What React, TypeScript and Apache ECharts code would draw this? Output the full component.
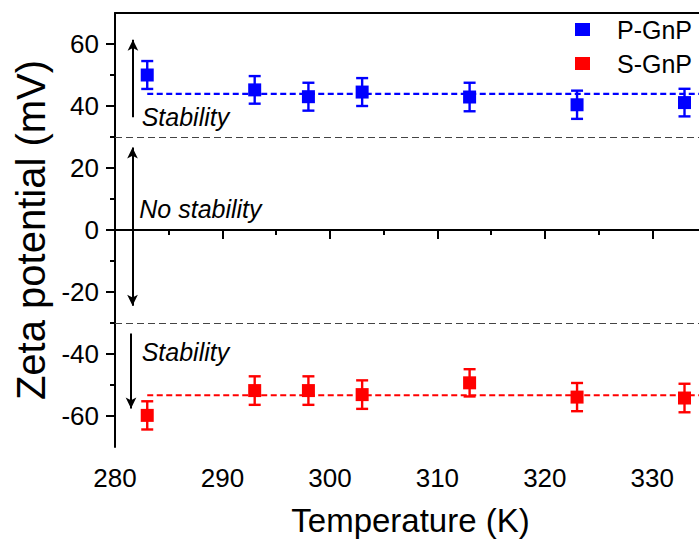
import React, { useEffect, useRef } from "react";
import * as echarts from "echarts";

// ---- data ----
const temperatures = [283, 293, 298, 303, 313, 323, 333];
const pGnP = [50.0, 45.2, 43.0, 44.5, 42.9, 40.4, 41.1];
const pGnPErr = [4.5, 4.45, 4.5, 4.5, 4.6, 4.55, 4.45];
const sGnP = [-59.8, -51.8, -51.8, -53.1, -49.3, -53.9, -54.2];
const sGnPErr = [4.55, 4.6, 4.6, 4.6, 4.4, 4.55, 4.6];
const fitP = 43.9;
const fitS = -53.3;
const fitRange = [283, 335];

const xMajorTicks = [280, 290, 300, 310, 320, 330];
const xMinorTicks = [285, 295, 305, 315, 325, 335];
const yMajorTicks = [-60, -40, -20, 0, 20, 40, 60];
const yMinorTicks = [-50, -30, -10, 10, 30, 50];

const stabilityLimits = [30, -30];
// annotation arrows: [x, from, to]
const arrowUp = [281.67, 36.4, 61.4];
const arrowBoth = [281.63, 26.6, -24.4];
const arrowDown = [281.49, -33.4, -57.6];
const annotations = [
  { text: "Stability", x: 282.48, y: 36.5 },
  { text: "No stability", x: 282.26, y: 6.9 },
  { text: "Stability", x: 282.48, y: -39.5 },
];

const FONT = "Liberation Sans, Arial, sans-serif";
const BLUE = "#0000FF";
const RED = "#FF0000";

function errorBarSeries(name: string, vals: number[], errs: number[], color: string) {
  return {
    type: "custom",
    name: name + "-err",
    xAxisIndex: 0,
    yAxisIndex: 0,
    z: 3,
    silent: true,
    encode: { x: 0, y: [1, 2] },
    data: temperatures.map((t, i) => [t, vals[i] - errs[i], vals[i] + errs[i]]),
    renderItem: (params: any, api: any) => {
      const x = api.value(0);
      const p1 = api.coord([x, api.value(1)]);
      const p2 = api.coord([x, api.value(2)]);
      const hw = 6;
      const style = { stroke: color, lineWidth: 2.4 };
      return {
        type: "group",
        children: [
          { type: "line", shape: { x1: p1[0], y1: p1[1], x2: p2[0], y2: p2[1] }, style },
          { type: "line", shape: { x1: p1[0] - hw, y1: p1[1], x2: p1[0] + hw, y2: p1[1] }, style },
          { type: "line", shape: { x1: p2[0] - hw, y1: p2[1], x2: p2[0] + hw, y2: p2[1] }, style },
        ],
      };
    },
  };
}

export default function App() {
  const ref = useRef<HTMLDivElement>(null);
  useEffect(() => {
    if (!ref.current) return;
    const chart = echarts.init(ref.current, undefined, { renderer: "svg" });
    const axisLineStyle = { color: "#000", width: 2 };
    const option: any = {
      animation: false,
      backgroundColor: "#fff",
      grid: { left: 115, right: -7, top: 13, bottom: 93, containLabel: false, outerBoundsMode: "none" },
      legend: {
        orient: "vertical",
        left: 575,
        top: 17,
        padding: 0,
        itemWidth: 15,
        itemHeight: 13,
        itemGap: 9,
        textStyle: { fontSize: 25, fontFamily: FONT, color: "#000", lineHeight: 25, padding: [0, 0, 0, 22] },
        data: [
          { name: "P-GnP", icon: "rect", itemStyle: { color: BLUE, opacity: 1 } },
          { name: "S-GnP", icon: "rect", itemStyle: { color: RED, opacity: 1 } },
        ],
      },
      xAxis: [
        {
          type: "value",
          position: "bottom",
          min: 280,
          max: 335,
          interval: 5,
          name: "Temperature (K)",
          nameLocation: "middle",
          nameGap: 57,
          nameTextStyle: { fontSize: 33, fontFamily: FONT, color: "#000" },
          axisLine: { show: true, lineStyle: axisLineStyle },
          axisTick: { show: true, length: 9, lineStyle: { color: "#000", width: 2 }, customValues: xMajorTicks },
          axisLabel: { show: true, fontSize: 26, fontFamily: FONT, color: "#000", margin: 18, customValues: xMajorTicks },
          splitLine: { show: false },
        },
        {
          type: "value",
          position: "bottom",
          min: 280,
          max: 335,
          interval: 5,
          axisLine: { show: false },
          axisTick: { show: true, length: 5, lineStyle: { color: "#000", width: 2 }, customValues: xMinorTicks },
          axisLabel: { show: false },
          splitLine: { show: false },
        },
        {
          type: "value",
          position: "top",
          min: 280,
          max: 335,
          interval: 5,
          axisLine: { show: true, lineStyle: axisLineStyle },
          axisTick: { show: false },
          axisLabel: { show: false },
          splitLine: { show: false },
        },
      ],
      yAxis: [
        {
          type: "value",
          position: "left",
          min: -70,
          max: 70,
          interval: 10,
          name: "Zeta potential (mV)",
          nameLocation: "middle",
          nameGap: 63,
          nameTextStyle: { fontSize: 40, fontFamily: FONT, color: "#000" },
          axisLine: { show: true, lineStyle: axisLineStyle },
          axisTick: { show: true, length: 9, lineStyle: { color: "#000", width: 2 }, customValues: yMajorTicks },
          axisLabel: { show: true, fontSize: 26, fontFamily: FONT, color: "#000", margin: 16, customValues: yMajorTicks },
          splitLine: { show: false },
        },
        {
          type: "value",
          position: "left",
          min: -70,
          max: 70,
          interval: 10,
          axisLine: { show: false },
          axisTick: { show: true, length: 5, lineStyle: { color: "#000", width: 2 }, customValues: yMinorTicks },
          axisLabel: { show: false },
          splitLine: { show: false },
        },
      ],
      series: [
        {
          type: "line",
          name: "fitP",
          xAxisIndex: 0,
          yAxisIndex: 0,
          data: fitRange.map((x) => [x, fitP]),
          symbol: "none",
          silent: true,
          z: 2,
          lineStyle: { color: BLUE, width: 2.2, type: [6, 3.5] },
          markLine: {
            silent: true,
            symbol: "none",
            label: { show: false },
            data: [
              { yAxis: 0, lineStyle: { color: "#000", width: 2, type: "solid" } },
              ...stabilityLimits.map((v) => ({ yAxis: v, lineStyle: { color: "#444", width: 1, type: [7, 4] } })),
            ],
          },
        },
        {
          type: "line",
          name: "fitS",
          xAxisIndex: 0,
          yAxisIndex: 0,
          data: fitRange.map((x) => [x, fitS]),
          symbol: "none",
          silent: true,
          z: 2,
          lineStyle: { color: RED, width: 2.2, type: [6, 3.5] },
          markLine: {
            silent: true,
            label: { show: false },
            symbolSize: [8, 11],
            lineStyle: { color: "#000", width: 2, type: "solid" },
            data: [
              [
                { coord: [arrowUp[0], arrowUp[1]], symbol: "none" },
                { coord: [arrowUp[0], arrowUp[2]], symbol: "arrow" },
              ],
              [
                { coord: [arrowBoth[0], arrowBoth[1]], symbol: "arrow" },
                { coord: [arrowBoth[0], arrowBoth[2]], symbol: "arrow" },
              ],
              [
                { coord: [arrowDown[0], arrowDown[1]], symbol: "none" },
                { coord: [arrowDown[0], arrowDown[2]], symbol: "arrow" },
              ],
            ],
          },
          markPoint: {
            silent: true,
            symbol: "circle",
            symbolSize: 0,
            data: annotations.map((a) => ({
              coord: [a.x, a.y],
              value: a.text,
              label: {
                show: true,
                position: "right",
                distance: 0,
                formatter: a.text,
                fontSize: 25,
                fontStyle: "italic",
                fontFamily: FONT,
                color: "#000",
              },
            })),
          },
        },
        errorBarSeries("P-GnP", pGnP, pGnPErr, BLUE),
        errorBarSeries("S-GnP", sGnP, sGnPErr, RED),
        {
          type: "scatter",
          name: "P-GnP",
          xAxisIndex: 0,
          yAxisIndex: 0,
          z: 4,
          symbol: "rect",
          symbolSize: 13,
          itemStyle: { color: BLUE, opacity: 1 },
          data: temperatures.map((t, i) => [t, pGnP[i]]),
        },
        {
          type: "scatter",
          name: "S-GnP",
          xAxisIndex: 0,
          yAxisIndex: 0,
          z: 4,
          symbol: "rect",
          symbolSize: 13,
          itemStyle: { color: RED, opacity: 1 },
          data: temperatures.map((t, i) => [t, sGnP[i]]),
        },
      ],
    };
    chart.setOption(option);
    return () => chart.dispose();
  }, []);
  return (
    <div
      ref={ref}
      style={{ position: "fixed", left: 0, top: 0, width: 699, height: 540, background: "#fff" }}
    />
  );
}
